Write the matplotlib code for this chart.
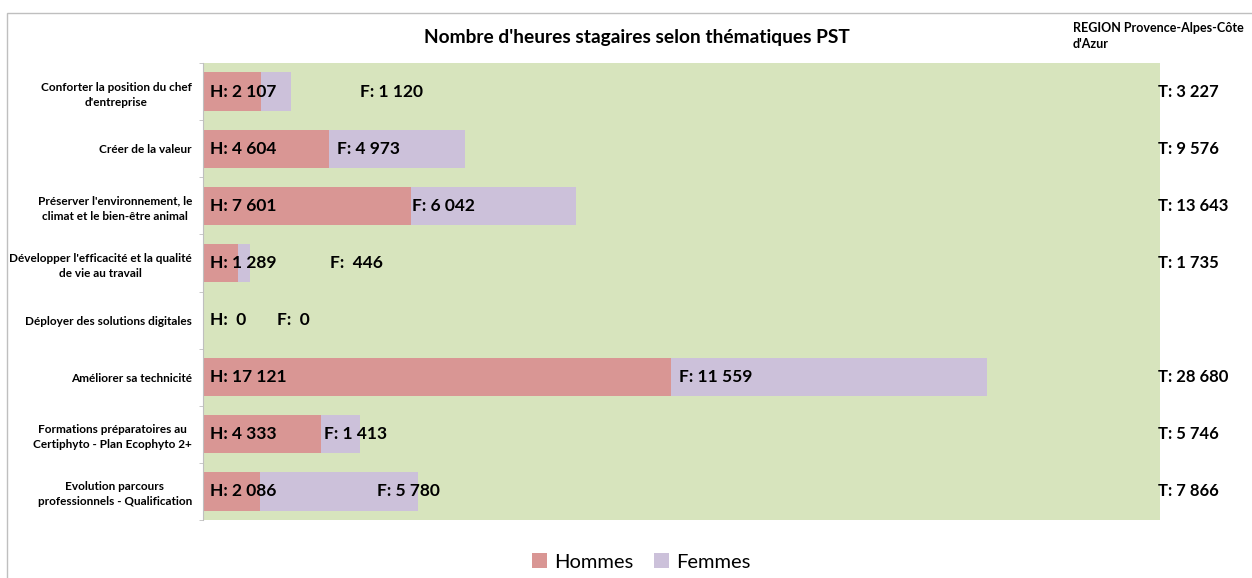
import matplotlib.pyplot as plt
from matplotlib.patches import Rectangle

# data
themes = ["Conforter la position du chef\nd'entreprise",
          "Créer de la valeur",
          "Préserver l'environnement, le\nclimat et le bien-être animal",
          "Développer l'efficacité et la qualité\nde vie au travail",
          "Déployer des solutions digitales",
          "Améliorer sa technicité",
          "Formations préparatoires au\nCertiphyto - Plan Ecophyto 2+",
          "Evolution parcours\nprofessionnels - Qualification"]
hommes = [2107, 4604, 7601, 1289, 0, 17121, 4333, 2086]
femmes = [1120, 4973, 6042, 446, 0, 11559, 1413, 5780]
totaux = [3227, 9576, 13643, 1735, 0, 28680, 5746, 7866]

# where the F: labels sit (data units)
f_label_x = [5740, 4900, 7640, 4650, 2710, 17410, 4430, 6360]

C_H = '#D99694'
C_F = '#CCC1DA'
C_BG = '#D7E4BD'

plt.rcParams['font.family'] = ['Lato', 'DejaVu Sans']


def fmt(prefix, v):
    if v >= 1000:
        return prefix + " " + f"{v:,}".replace(",", " ")
    return prefix + "  " + str(v)


fig = plt.figure(figsize=(12.52, 5.78), dpi=100)
ax = fig.add_axes([203/1252, 58/578, 957/1252, 457/578])
ax.set_facecolor(C_BG)

y = list(range(len(themes)))
ax.barh(y, hommes, height=0.67, color=C_H, label='Hommes')
ax.barh(y, femmes, left=hommes, height=0.67, color=C_F, label='Femmes')

ax.set_xlim(0, 35000)
ax.set_ylim(len(themes) - 0.5, -0.5)
ax.set_xticks([])
ax.set_yticks(y)
ax.set_yticklabels(themes, fontsize=8.5, fontweight='bold')
for t in ax.get_yticklabels():
    t.set_multialignment('center')
    t.set_linespacing(1.45)
ax.tick_params(axis='y', which='major', length=0, pad=8)
ax.set_yticks([i - 0.5 for i in range(len(themes) + 1)], minor=True)
ax.tick_params(axis='y', which='minor', length=3, color='#BFBFBF', direction='out')
for s in ['top', 'right', 'bottom']:
    ax.spines[s].set_visible(False)
ax.spines['left'].set_color('#BFBFBF')

for i in y:
    ax.text(260, i, fmt("H:", hommes[i]), va='center', ha='left',
            fontsize=12.5, fontweight='bold', color='black')
    ax.text(f_label_x[i], i, fmt("F:", femmes[i]), va='center', ha='left',
            fontsize=12.5, fontweight='bold', color='black')
    if totaux[i] > 0:
        ax.text(0.998, i, fmt("T:", totaux[i]), va='center', ha='left',
                fontsize=12, fontweight='bold', color='black',
                transform=ax.get_yaxis_transform(), clip_on=False)

fig.text(637/1252, 1 - 38/578, "Nombre d'heures stagaires selon thématiques PST",
         ha='center', va='center', fontsize=13.8, fontweight='bold')
fig.text(1073/1252, 1 - 36/578, "REGION Provence-Alpes-Côte\nd'Azur",
         ha='left', va='center', fontsize=9, fontweight='bold', linespacing=1.5)

fig.legend(loc='center', bbox_to_anchor=(641/1252, 1 - 562/578), ncol=2,
           frameon=False, fontsize=14.5, handlelength=0.75, handleheight=0.75,
           handletextpad=0.35, columnspacing=1.0)

fig.patches.append(Rectangle((7/1252, -0.05), 1.05, 0.05 + (1 - 13/578),
                             transform=fig.transFigure, fill=False,
                             edgecolor='#BFBFBF', linewidth=1))

fig.savefig('out.png', dpi=100)
